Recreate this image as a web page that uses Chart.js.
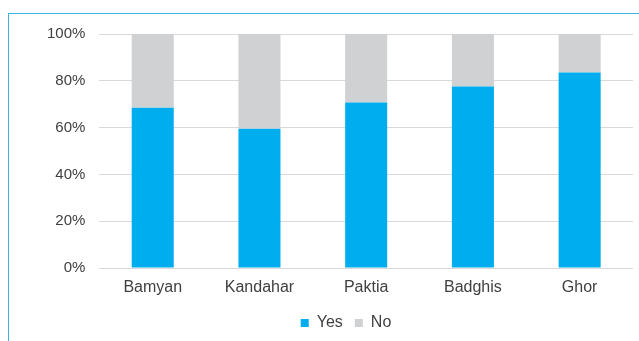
<!DOCTYPE html>
<html>
<head>
<meta charset="utf-8">
<script src="https://cdn.jsdelivr.net/npm/chart.js@4/dist/chart.umd.min.js"></script>
<style>
  html, body { margin: 0; padding: 0; background: #fff; }
  #wrap { position: relative; width: 639px; height: 341px; }
  #frame { position: absolute; left: 8px; top: 13px; right: 0; bottom: 0;
           border-left: 1px solid #3DB4E6; border-top: 1px solid #3DB4E6; pointer-events: none; }
  canvas { position: absolute; left: 0; top: 0; }
</style>
</head>
<body>
<div id="wrap">
  <canvas id="c" width="639" height="341"></canvas>
  <div id="frame"></div>
</div>
<script>
const categories = ["Bamyan", "Kandahar", "Paktia", "Badghis", "Ghor"];
const yesValues = [68.5, 59.5, 70.7, 77.6, 83.6];
const noValues = [31.5, 40.5, 29.3, 22.4, 16.4];
const yTicks = [0, 20, 40, 60, 80, 100];
const FONT = "'Liberation Sans', Arial, sans-serif";

const legendShift = {
  id: "legendShift",
  afterLayout(chart) {
    if (chart.legend) { chart.legend.left += 26; }
  }
};

new Chart(document.getElementById("c"), {
  type: "bar",
  data: {
    labels: categories,
    datasets: [
      { label: "Yes", data: yesValues, backgroundColor: "#00AEEF", categoryPercentage: 1, barPercentage: 0.394 },
      { label: "No", data: noValues, backgroundColor: "#D0D1D3", categoryPercentage: 1, barPercentage: 0.394 }
    ]
  },
  plugins: [legendShift],
  options: {
    responsive: false,
    animation: false,
    layout: { padding: { left: 33, right: 6, top: 34, bottom: 0 } },
    plugins: {
      tooltip: { enabled: false },
      legend: {
        position: "bottom",
        labels: {
          boxWidth: 8, boxHeight: 8, padding: 12,
          color: "#404040",
          font: { family: FONT, size: 16 }
        }
      }
    },
    scales: {
      x: {
        stacked: true,
        grid: { display: false, drawTicks: false },
        border: { display: false },
        ticks: { color: "#404040", padding: 10, font: { family: FONT, size: 16 } },
        afterFit: (axis) => { axis.height = 35; }
      },
      y: {
        stacked: true,
        min: 0, max: 100,
        afterBuildTicks: (axis) => { axis.ticks = yTicks.map(v => ({ value: v })); },
        grid: { color: "#D9D9D9", lineWidth: 1, drawTicks: false },
        border: { display: false },
        ticks: {
          color: "#404040", padding: 14,
          font: { family: FONT, size: 15 },
          callback: (v) => v + "%"
        }
      }
    }
  }
});
</script>
</body>
</html>
